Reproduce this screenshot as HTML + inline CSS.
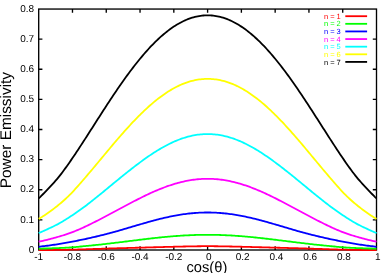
<!DOCTYPE html>
<html><head><meta charset="utf-8"><style>
html,body{margin:0;padding:0;background:#fff;}
body{width:389px;height:273px;overflow:hidden;}
svg{display:block;font-family:"Liberation Sans",sans-serif;text-rendering:geometricPrecision;will-change:transform;}
</style></head><body>
<svg width="389" height="273" viewBox="0 0 389 273">
<rect width="389" height="273" fill="#fff"/>
<g stroke="#000" stroke-width="1.35" fill="none">
<rect x="38.7" y="9.05" width="337.80" height="240.95"/>
<path d="M72.48,250.0 v-3.7 M72.48,9.05 v3.7"/>
<path d="M106.26,250.0 v-3.7 M106.26,9.05 v3.7"/>
<path d="M140.04,250.0 v-3.7 M140.04,9.05 v3.7"/>
<path d="M173.82,250.0 v-3.7 M173.82,9.05 v3.7"/>
<path d="M207.60,250.0 v-3.7 M207.60,9.05 v3.7"/>
<path d="M241.38,250.0 v-3.7 M241.38,9.05 v3.7"/>
<path d="M275.16,250.0 v-3.7 M275.16,9.05 v3.7"/>
<path d="M308.94,250.0 v-3.7 M308.94,9.05 v3.7"/>
<path d="M342.72,250.0 v-3.7 M342.72,9.05 v3.7"/>
<path d="M38.7,219.88 h3.7 M376.5,219.88 h-3.7"/>
<path d="M38.7,189.76 h3.7 M376.5,189.76 h-3.7"/>
<path d="M38.7,159.64 h3.7 M376.5,159.64 h-3.7"/>
<path d="M38.7,129.53 h3.7 M376.5,129.53 h-3.7"/>
<path d="M38.7,99.41 h3.7 M376.5,99.41 h-3.7"/>
<path d="M38.7,69.29 h3.7 M376.5,69.29 h-3.7"/>
<path d="M38.7,39.17 h3.7 M376.5,39.17 h-3.7"/>
</g>
<g>
<path d="M38.70,250.20 L40.11,250.18 L41.52,250.16 L42.92,250.15 L44.33,250.13 L45.74,250.11 L47.15,250.09 L48.55,250.07 L49.96,250.05 L51.37,250.03 L52.78,250.01 L54.18,249.99 L55.59,249.97 L57.00,249.95 L58.41,249.93 L59.81,249.91 L61.22,249.88 L62.63,249.86 L64.04,249.83 L65.44,249.80 L66.85,249.78 L68.26,249.75 L69.67,249.72 L71.07,249.68 L72.48,249.65 L73.89,249.61 L75.30,249.58 L76.70,249.54 L78.11,249.50 L79.52,249.46 L80.93,249.42 L82.33,249.38 L83.74,249.33 L85.15,249.29 L86.56,249.25 L87.96,249.20 L89.37,249.16 L90.78,249.11 L92.19,249.06 L93.59,249.02 L95.00,248.97 L96.41,248.92 L97.81,248.88 L99.22,248.83 L100.63,248.78 L102.04,248.74 L103.44,248.69 L104.85,248.64 L106.26,248.60 L107.67,248.56 L109.08,248.51 L110.48,248.47 L111.89,248.43 L113.30,248.39 L114.70,248.34 L116.11,248.30 L117.52,248.26 L118.93,248.22 L120.34,248.18 L121.74,248.14 L123.15,248.10 L124.56,248.07 L125.96,248.03 L127.37,247.99 L128.78,247.95 L130.19,247.91 L131.60,247.88 L133.00,247.84 L134.41,247.80 L135.82,247.76 L137.23,247.73 L138.63,247.69 L140.04,247.65 L141.45,247.61 L142.86,247.57 L144.26,247.54 L145.67,247.50 L147.08,247.46 L148.49,247.42 L149.89,247.38 L151.30,247.35 L152.71,247.31 L154.12,247.27 L155.52,247.23 L156.93,247.19 L158.34,247.16 L159.75,247.12 L161.15,247.08 L162.56,247.04 L163.97,247.01 L165.38,246.97 L166.78,246.93 L168.19,246.90 L169.60,246.86 L171.00,246.82 L172.41,246.79 L173.82,246.75 L175.23,246.71 L176.63,246.68 L178.04,246.64 L179.45,246.61 L180.86,246.58 L182.26,246.54 L183.67,246.51 L185.08,246.48 L186.49,246.45 L187.89,246.42 L189.30,246.39 L190.71,246.37 L192.12,246.34 L193.52,246.32 L194.93,246.30 L196.34,246.28 L197.75,246.26 L199.15,246.25 L200.56,246.23 L201.97,246.22 L203.38,246.21 L204.79,246.21 L206.19,246.20 L207.60,246.20 L209.01,246.20 L210.42,246.21 L211.82,246.21 L213.23,246.22 L214.64,246.23 L216.05,246.25 L217.45,246.26 L218.86,246.28 L220.27,246.30 L221.68,246.32 L223.08,246.34 L224.49,246.37 L225.90,246.39 L227.31,246.42 L228.71,246.45 L230.12,246.48 L231.53,246.51 L232.94,246.54 L234.34,246.58 L235.75,246.61 L237.16,246.64 L238.56,246.68 L239.97,246.71 L241.38,246.75 L242.79,246.79 L244.19,246.82 L245.60,246.86 L247.01,246.90 L248.42,246.93 L249.82,246.97 L251.23,247.01 L252.64,247.04 L254.05,247.08 L255.45,247.12 L256.86,247.16 L258.27,247.19 L259.68,247.23 L261.08,247.27 L262.49,247.31 L263.90,247.35 L265.31,247.38 L266.72,247.42 L268.12,247.46 L269.53,247.50 L270.94,247.54 L272.35,247.57 L273.75,247.61 L275.16,247.65 L276.57,247.69 L277.98,247.73 L279.38,247.76 L280.79,247.80 L282.20,247.84 L283.61,247.88 L285.01,247.91 L286.42,247.95 L287.83,247.99 L289.24,248.03 L290.64,248.07 L292.05,248.10 L293.46,248.14 L294.87,248.18 L296.27,248.22 L297.68,248.26 L299.09,248.30 L300.50,248.34 L301.90,248.39 L303.31,248.43 L304.72,248.47 L306.12,248.51 L307.53,248.56 L308.94,248.60 L310.35,248.64 L311.75,248.69 L313.16,248.74 L314.57,248.78 L315.98,248.83 L317.38,248.88 L318.79,248.92 L320.20,248.97 L321.61,249.02 L323.01,249.06 L324.42,249.11 L325.83,249.16 L327.24,249.20 L328.64,249.25 L330.05,249.29 L331.46,249.33 L332.87,249.38 L334.27,249.42 L335.68,249.46 L337.09,249.50 L338.50,249.54 L339.90,249.58 L341.31,249.61 L342.72,249.65 L344.13,249.68 L345.53,249.72 L346.94,249.75 L348.35,249.78 L349.76,249.80 L351.16,249.83 L352.57,249.86 L353.98,249.88 L355.39,249.91 L356.80,249.93 L358.20,249.95 L359.61,249.97 L361.02,249.99 L362.43,250.01 L363.83,250.03 L365.24,250.05 L366.65,250.07 L368.06,250.09 L369.46,250.11 L370.87,250.13 L372.28,250.15 L373.69,250.16 L375.09,250.18 L376.50,250.20" fill="none" stroke="#ff0000" stroke-width="1.8" stroke-linejoin="round"/>
<path d="M38.70,248.75 L40.11,248.68 L41.52,248.62 L42.92,248.57 L44.33,248.52 L45.74,248.48 L47.15,248.43 L48.55,248.39 L49.96,248.34 L51.37,248.30 L52.78,248.25 L54.18,248.20 L55.59,248.15 L57.00,248.10 L58.41,248.05 L59.81,248.00 L61.22,247.94 L62.63,247.88 L64.04,247.82 L65.44,247.75 L66.85,247.68 L68.26,247.60 L69.67,247.50 L71.07,247.40 L72.48,247.30 L73.89,247.18 L75.30,247.06 L76.70,246.93 L78.11,246.80 L79.52,246.66 L80.93,246.52 L82.33,246.38 L83.74,246.23 L85.15,246.09 L86.56,245.95 L87.96,245.81 L89.37,245.67 L90.78,245.53 L92.19,245.39 L93.59,245.25 L95.00,245.11 L96.41,244.96 L97.81,244.82 L99.22,244.67 L100.63,244.52 L102.04,244.37 L103.44,244.21 L104.85,244.05 L106.26,243.89 L107.67,243.73 L109.08,243.56 L110.48,243.40 L111.89,243.23 L113.30,243.06 L114.70,242.89 L116.11,242.71 L117.52,242.54 L118.93,242.37 L120.34,242.19 L121.74,242.02 L123.15,241.84 L124.56,241.67 L125.96,241.49 L127.37,241.32 L128.78,241.14 L130.19,240.97 L131.60,240.79 L133.00,240.62 L134.41,240.44 L135.82,240.27 L137.23,240.10 L138.63,239.92 L140.04,239.75 L141.45,239.58 L142.86,239.41 L144.26,239.24 L145.67,239.07 L147.08,238.91 L148.49,238.74 L149.89,238.58 L151.30,238.42 L152.71,238.26 L154.12,238.11 L155.52,237.95 L156.93,237.80 L158.34,237.65 L159.75,237.50 L161.15,237.36 L162.56,237.22 L163.97,237.08 L165.38,236.94 L166.78,236.81 L168.19,236.68 L169.60,236.56 L171.00,236.44 L172.41,236.32 L173.82,236.21 L175.23,236.10 L176.63,235.99 L178.04,235.89 L179.45,235.79 L180.86,235.70 L182.26,235.61 L183.67,235.52 L185.08,235.44 L186.49,235.37 L187.89,235.29 L189.30,235.23 L190.71,235.16 L192.12,235.11 L193.52,235.05 L194.93,235.01 L196.34,234.96 L197.75,234.93 L199.15,234.89 L200.56,234.87 L201.97,234.84 L203.38,234.82 L204.79,234.81 L206.19,234.80 L207.60,234.80 L209.01,234.80 L210.42,234.81 L211.82,234.82 L213.23,234.84 L214.64,234.87 L216.05,234.89 L217.45,234.93 L218.86,234.96 L220.27,235.01 L221.68,235.05 L223.08,235.11 L224.49,235.16 L225.90,235.23 L227.31,235.29 L228.71,235.37 L230.12,235.44 L231.53,235.52 L232.94,235.61 L234.34,235.70 L235.75,235.79 L237.16,235.89 L238.56,235.99 L239.97,236.10 L241.38,236.21 L242.79,236.32 L244.19,236.44 L245.60,236.56 L247.01,236.68 L248.42,236.81 L249.82,236.94 L251.23,237.08 L252.64,237.22 L254.05,237.36 L255.45,237.50 L256.86,237.65 L258.27,237.80 L259.68,237.95 L261.08,238.11 L262.49,238.26 L263.90,238.42 L265.31,238.58 L266.72,238.74 L268.12,238.91 L269.53,239.07 L270.94,239.24 L272.35,239.41 L273.75,239.58 L275.16,239.75 L276.57,239.92 L277.98,240.10 L279.38,240.27 L280.79,240.44 L282.20,240.62 L283.61,240.79 L285.01,240.97 L286.42,241.14 L287.83,241.32 L289.24,241.49 L290.64,241.67 L292.05,241.84 L293.46,242.02 L294.87,242.19 L296.27,242.37 L297.68,242.54 L299.09,242.71 L300.50,242.89 L301.90,243.06 L303.31,243.23 L304.72,243.40 L306.12,243.56 L307.53,243.73 L308.94,243.89 L310.35,244.05 L311.75,244.21 L313.16,244.37 L314.57,244.52 L315.98,244.67 L317.38,244.82 L318.79,244.96 L320.20,245.11 L321.61,245.25 L323.01,245.39 L324.42,245.53 L325.83,245.67 L327.24,245.81 L328.64,245.95 L330.05,246.09 L331.46,246.23 L332.87,246.38 L334.27,246.52 L335.68,246.66 L337.09,246.80 L338.50,246.93 L339.90,247.06 L341.31,247.18 L342.72,247.30 L344.13,247.40 L345.53,247.50 L346.94,247.60 L348.35,247.68 L349.76,247.75 L351.16,247.82 L352.57,247.88 L353.98,247.94 L355.39,248.00 L356.80,248.05 L358.20,248.10 L359.61,248.15 L361.02,248.20 L362.43,248.25 L363.83,248.30 L365.24,248.34 L366.65,248.39 L368.06,248.43 L369.46,248.48 L370.87,248.52 L372.28,248.57 L373.69,248.62 L375.09,248.68 L376.50,248.75" fill="none" stroke="#00ff00" stroke-width="1.8" stroke-linejoin="round"/>
<path d="M38.70,246.77 L40.11,246.58 L41.52,246.41 L42.92,246.25 L44.33,246.09 L45.74,245.93 L47.15,245.76 L48.55,245.58 L49.96,245.39 L51.37,245.18 L52.78,244.97 L54.18,244.75 L55.59,244.52 L57.00,244.29 L58.41,244.06 L59.81,243.82 L61.22,243.59 L62.63,243.35 L64.04,243.11 L65.44,242.86 L66.85,242.61 L68.26,242.36 L69.67,242.11 L71.07,241.85 L72.48,241.59 L73.89,241.32 L75.30,241.06 L76.70,240.78 L78.11,240.50 L79.52,240.22 L80.93,239.94 L82.33,239.65 L83.74,239.35 L85.15,239.05 L86.56,238.75 L87.96,238.44 L89.37,238.13 L90.78,237.81 L92.19,237.49 L93.59,237.16 L95.00,236.83 L96.41,236.50 L97.81,236.17 L99.22,235.83 L100.63,235.49 L102.04,235.14 L103.44,234.79 L104.85,234.44 L106.26,234.08 L107.67,233.71 L109.08,233.35 L110.48,232.97 L111.89,232.59 L113.30,232.21 L114.70,231.82 L116.11,231.43 L117.52,231.03 L118.93,230.63 L120.34,230.22 L121.74,229.81 L123.15,229.40 L124.56,228.98 L125.96,228.56 L127.37,228.14 L128.78,227.73 L130.19,227.31 L131.60,226.89 L133.00,226.47 L134.41,226.05 L135.82,225.64 L137.23,225.22 L138.63,224.81 L140.04,224.40 L141.45,223.99 L142.86,223.58 L144.26,223.17 L145.67,222.77 L147.08,222.37 L148.49,221.98 L149.89,221.59 L151.30,221.20 L152.71,220.82 L154.12,220.44 L155.52,220.07 L156.93,219.71 L158.34,219.35 L159.75,218.99 L161.15,218.65 L162.56,218.31 L163.97,217.98 L165.38,217.65 L166.78,217.33 L168.19,217.02 L169.60,216.72 L171.00,216.43 L172.41,216.15 L173.82,215.87 L175.23,215.61 L176.63,215.35 L178.04,215.11 L179.45,214.87 L180.86,214.65 L182.26,214.43 L183.67,214.23 L185.08,214.03 L186.49,213.85 L187.89,213.68 L189.30,213.51 L190.71,213.37 L192.12,213.23 L193.52,213.10 L194.93,212.99 L196.34,212.88 L197.75,212.79 L199.15,212.71 L200.56,212.65 L201.97,212.59 L203.38,212.55 L204.79,212.52 L206.19,212.50 L207.60,212.49 L209.01,212.50 L210.42,212.52 L211.82,212.55 L213.23,212.59 L214.64,212.65 L216.05,212.71 L217.45,212.79 L218.86,212.88 L220.27,212.99 L221.68,213.10 L223.08,213.23 L224.49,213.37 L225.90,213.51 L227.31,213.68 L228.71,213.85 L230.12,214.03 L231.53,214.23 L232.94,214.43 L234.34,214.65 L235.75,214.87 L237.16,215.11 L238.56,215.35 L239.97,215.61 L241.38,215.87 L242.79,216.15 L244.19,216.43 L245.60,216.72 L247.01,217.02 L248.42,217.33 L249.82,217.65 L251.23,217.98 L252.64,218.31 L254.05,218.65 L255.45,218.99 L256.86,219.35 L258.27,219.71 L259.68,220.07 L261.08,220.44 L262.49,220.82 L263.90,221.20 L265.31,221.59 L266.72,221.98 L268.12,222.37 L269.53,222.77 L270.94,223.17 L272.35,223.58 L273.75,223.99 L275.16,224.40 L276.57,224.81 L277.98,225.22 L279.38,225.64 L280.79,226.05 L282.20,226.47 L283.61,226.89 L285.01,227.31 L286.42,227.73 L287.83,228.14 L289.24,228.56 L290.64,228.98 L292.05,229.40 L293.46,229.81 L294.87,230.22 L296.27,230.63 L297.68,231.03 L299.09,231.43 L300.50,231.82 L301.90,232.21 L303.31,232.59 L304.72,232.97 L306.12,233.35 L307.53,233.71 L308.94,234.08 L310.35,234.44 L311.75,234.79 L313.16,235.14 L314.57,235.49 L315.98,235.83 L317.38,236.17 L318.79,236.50 L320.20,236.83 L321.61,237.16 L323.01,237.49 L324.42,237.81 L325.83,238.13 L327.24,238.44 L328.64,238.75 L330.05,239.05 L331.46,239.35 L332.87,239.65 L334.27,239.94 L335.68,240.22 L337.09,240.50 L338.50,240.78 L339.90,241.06 L341.31,241.32 L342.72,241.59 L344.13,241.85 L345.53,242.11 L346.94,242.36 L348.35,242.61 L349.76,242.86 L351.16,243.11 L352.57,243.35 L353.98,243.59 L355.39,243.82 L356.80,244.06 L358.20,244.29 L359.61,244.52 L361.02,244.75 L362.43,244.97 L363.83,245.18 L365.24,245.39 L366.65,245.58 L368.06,245.76 L369.46,245.93 L370.87,246.09 L372.28,246.25 L373.69,246.41 L375.09,246.58 L376.50,246.77" fill="none" stroke="#0000ff" stroke-width="1.8" stroke-linejoin="round"/>
<path d="M38.70,241.70 L40.11,241.39 L41.52,241.08 L42.92,240.76 L44.33,240.44 L45.74,240.11 L47.15,239.77 L48.55,239.43 L49.96,239.07 L51.37,238.71 L52.78,238.33 L54.18,237.95 L55.59,237.56 L57.00,237.17 L58.41,236.76 L59.81,236.35 L61.22,235.93 L62.63,235.50 L64.04,235.06 L65.44,234.61 L66.85,234.14 L68.26,233.65 L69.67,233.15 L71.07,232.63 L72.48,232.10 L73.89,231.55 L75.30,230.99 L76.70,230.41 L78.11,229.83 L79.52,229.23 L80.93,228.61 L82.33,227.99 L83.74,227.35 L85.15,226.69 L86.56,226.03 L87.96,225.36 L89.37,224.67 L90.78,223.98 L92.19,223.28 L93.59,222.57 L95.00,221.86 L96.41,221.15 L97.81,220.43 L99.22,219.71 L100.63,218.98 L102.04,218.25 L103.44,217.52 L104.85,216.78 L106.26,216.04 L107.67,215.30 L109.08,214.55 L110.48,213.80 L111.89,213.05 L113.30,212.30 L114.70,211.54 L116.11,210.79 L117.52,210.03 L118.93,209.27 L120.34,208.52 L121.74,207.76 L123.15,207.01 L124.56,206.25 L125.96,205.50 L127.37,204.75 L128.78,204.01 L130.19,203.26 L131.60,202.52 L133.00,201.79 L134.41,201.05 L135.82,200.33 L137.23,199.61 L138.63,198.89 L140.04,198.18 L141.45,197.48 L142.86,196.78 L144.26,196.10 L145.67,195.42 L147.08,194.74 L148.49,194.08 L149.89,193.43 L151.30,192.79 L152.71,192.15 L154.12,191.53 L155.52,190.92 L156.93,190.32 L158.34,189.73 L159.75,189.15 L161.15,188.59 L162.56,188.04 L163.97,187.50 L165.38,186.97 L166.78,186.46 L168.19,185.97 L169.60,185.48 L171.00,185.02 L172.41,184.56 L173.82,184.13 L175.23,183.70 L176.63,183.30 L178.04,182.91 L179.45,182.54 L180.86,182.18 L182.26,181.84 L183.67,181.52 L185.08,181.21 L186.49,180.92 L187.89,180.65 L189.30,180.40 L190.71,180.17 L192.12,179.95 L193.52,179.75 L194.93,179.57 L196.34,179.41 L197.75,179.27 L199.15,179.15 L200.56,179.04 L201.97,178.96 L203.38,178.89 L204.79,178.84 L206.19,178.81 L207.60,178.80 L209.01,178.81 L210.42,178.84 L211.82,178.89 L213.23,178.96 L214.64,179.04 L216.05,179.15 L217.45,179.27 L218.86,179.41 L220.27,179.57 L221.68,179.75 L223.08,179.95 L224.49,180.17 L225.90,180.40 L227.31,180.65 L228.71,180.92 L230.12,181.21 L231.53,181.52 L232.94,181.84 L234.34,182.18 L235.75,182.54 L237.16,182.91 L238.56,183.30 L239.97,183.70 L241.38,184.13 L242.79,184.56 L244.19,185.02 L245.60,185.48 L247.01,185.97 L248.42,186.46 L249.82,186.97 L251.23,187.50 L252.64,188.04 L254.05,188.59 L255.45,189.15 L256.86,189.73 L258.27,190.32 L259.68,190.92 L261.08,191.53 L262.49,192.15 L263.90,192.79 L265.31,193.43 L266.72,194.08 L268.12,194.74 L269.53,195.42 L270.94,196.10 L272.35,196.78 L273.75,197.48 L275.16,198.18 L276.57,198.89 L277.98,199.61 L279.38,200.33 L280.79,201.05 L282.20,201.79 L283.61,202.52 L285.01,203.26 L286.42,204.01 L287.83,204.75 L289.24,205.50 L290.64,206.25 L292.05,207.01 L293.46,207.76 L294.87,208.52 L296.27,209.27 L297.68,210.03 L299.09,210.79 L300.50,211.54 L301.90,212.30 L303.31,213.05 L304.72,213.80 L306.12,214.55 L307.53,215.30 L308.94,216.04 L310.35,216.78 L311.75,217.52 L313.16,218.25 L314.57,218.98 L315.98,219.71 L317.38,220.43 L318.79,221.15 L320.20,221.86 L321.61,222.57 L323.01,223.28 L324.42,223.98 L325.83,224.67 L327.24,225.36 L328.64,226.03 L330.05,226.69 L331.46,227.35 L332.87,227.99 L334.27,228.61 L335.68,229.23 L337.09,229.83 L338.50,230.41 L339.90,230.99 L341.31,231.55 L342.72,232.10 L344.13,232.63 L345.53,233.15 L346.94,233.65 L348.35,234.14 L349.76,234.61 L351.16,235.06 L352.57,235.50 L353.98,235.93 L355.39,236.35 L356.80,236.76 L358.20,237.17 L359.61,237.56 L361.02,237.95 L362.43,238.33 L363.83,238.71 L365.24,239.07 L366.65,239.43 L368.06,239.77 L369.46,240.11 L370.87,240.44 L372.28,240.76 L373.69,241.08 L375.09,241.39 L376.50,241.70" fill="none" stroke="#ff00ff" stroke-width="1.8" stroke-linejoin="round"/>
<path d="M38.70,233.18 L40.11,232.52 L41.52,231.87 L42.92,231.23 L44.33,230.60 L45.74,229.96 L47.15,229.32 L48.55,228.68 L49.96,228.03 L51.37,227.37 L52.78,226.69 L54.18,226.01 L55.59,225.31 L57.00,224.58 L58.41,223.84 L59.81,223.06 L61.22,222.26 L62.63,221.43 L64.04,220.57 L65.44,219.70 L66.85,218.81 L68.26,217.90 L69.67,216.99 L71.07,216.06 L72.48,215.13 L73.89,214.19 L75.30,213.24 L76.70,212.28 L78.11,211.31 L79.52,210.33 L80.93,209.33 L82.33,208.31 L83.74,207.28 L85.15,206.23 L86.56,205.16 L87.96,204.08 L89.37,202.99 L90.78,201.88 L92.19,200.77 L93.59,199.65 L95.00,198.52 L96.41,197.39 L97.81,196.26 L99.22,195.12 L100.63,193.98 L102.04,192.83 L103.44,191.68 L104.85,190.53 L106.26,189.37 L107.67,188.21 L109.08,187.05 L110.48,185.89 L111.89,184.73 L113.30,183.57 L114.70,182.41 L116.11,181.26 L117.52,180.10 L118.93,178.95 L120.34,177.81 L121.74,176.66 L123.15,175.53 L124.56,174.40 L125.96,173.27 L127.37,172.15 L128.78,171.03 L130.19,169.92 L131.60,168.82 L133.00,167.73 L134.41,166.64 L135.82,165.56 L137.23,164.49 L138.63,163.43 L140.04,162.39 L141.45,161.35 L142.86,160.32 L144.26,159.31 L145.67,158.31 L147.08,157.32 L148.49,156.34 L149.89,155.38 L151.30,154.44 L152.71,153.51 L154.12,152.59 L155.52,151.70 L156.93,150.82 L158.34,149.96 L159.75,149.11 L161.15,148.29 L162.56,147.48 L163.97,146.70 L165.38,145.93 L166.78,145.18 L168.19,144.46 L169.60,143.76 L171.00,143.07 L172.41,142.41 L173.82,141.78 L175.23,141.16 L176.63,140.57 L178.04,140.01 L179.45,139.47 L180.86,138.95 L182.26,138.45 L183.67,137.99 L185.08,137.54 L186.49,137.13 L187.89,136.73 L189.30,136.37 L190.71,136.03 L192.12,135.71 L193.52,135.43 L194.93,135.17 L196.34,134.94 L197.75,134.73 L199.15,134.55 L200.56,134.40 L201.97,134.28 L203.38,134.18 L204.79,134.11 L206.19,134.07 L207.60,134.06 L209.01,134.07 L210.42,134.11 L211.82,134.18 L213.23,134.28 L214.64,134.40 L216.05,134.55 L217.45,134.73 L218.86,134.94 L220.27,135.17 L221.68,135.43 L223.08,135.71 L224.49,136.03 L225.90,136.37 L227.31,136.73 L228.71,137.13 L230.12,137.54 L231.53,137.99 L232.94,138.45 L234.34,138.95 L235.75,139.47 L237.16,140.01 L238.56,140.57 L239.97,141.16 L241.38,141.78 L242.79,142.41 L244.19,143.07 L245.60,143.76 L247.01,144.46 L248.42,145.18 L249.82,145.93 L251.23,146.70 L252.64,147.48 L254.05,148.29 L255.45,149.11 L256.86,149.96 L258.27,150.82 L259.68,151.70 L261.08,152.59 L262.49,153.51 L263.90,154.44 L265.31,155.38 L266.72,156.34 L268.12,157.32 L269.53,158.31 L270.94,159.31 L272.35,160.32 L273.75,161.35 L275.16,162.39 L276.57,163.43 L277.98,164.49 L279.38,165.56 L280.79,166.64 L282.20,167.73 L283.61,168.82 L285.01,169.92 L286.42,171.03 L287.83,172.15 L289.24,173.27 L290.64,174.40 L292.05,175.53 L293.46,176.66 L294.87,177.81 L296.27,178.95 L297.68,180.10 L299.09,181.26 L300.50,182.41 L301.90,183.57 L303.31,184.73 L304.72,185.89 L306.12,187.05 L307.53,188.21 L308.94,189.37 L310.35,190.53 L311.75,191.68 L313.16,192.83 L314.57,193.98 L315.98,195.12 L317.38,196.26 L318.79,197.39 L320.20,198.52 L321.61,199.65 L323.01,200.77 L324.42,201.88 L325.83,202.99 L327.24,204.08 L328.64,205.16 L330.05,206.23 L331.46,207.28 L332.87,208.31 L334.27,209.33 L335.68,210.33 L337.09,211.31 L338.50,212.28 L339.90,213.24 L341.31,214.19 L342.72,215.13 L344.13,216.06 L345.53,216.99 L346.94,217.90 L348.35,218.81 L349.76,219.70 L351.16,220.57 L352.57,221.43 L353.98,222.26 L355.39,223.06 L356.80,223.84 L358.20,224.58 L359.61,225.31 L361.02,226.01 L362.43,226.69 L363.83,227.37 L365.24,228.03 L366.65,228.68 L368.06,229.32 L369.46,229.96 L370.87,230.60 L372.28,231.23 L373.69,231.87 L375.09,232.52 L376.50,233.18" fill="none" stroke="#00ffff" stroke-width="1.8" stroke-linejoin="round"/>
<path d="M38.70,218.88 L40.11,218.10 L41.52,217.25 L42.92,216.36 L44.33,215.43 L45.74,214.47 L47.15,213.49 L48.55,212.50 L49.96,211.49 L51.37,210.46 L52.78,209.42 L54.18,208.36 L55.59,207.28 L57.00,206.18 L58.41,205.06 L59.81,203.91 L61.22,202.74 L62.63,201.53 L64.04,200.29 L65.44,199.02 L66.85,197.70 L68.26,196.35 L69.67,194.95 L71.07,193.51 L72.48,192.04 L73.89,190.52 L75.30,188.98 L76.70,187.41 L78.11,185.82 L79.52,184.23 L80.93,182.62 L82.33,181.00 L83.74,179.37 L85.15,177.74 L86.56,176.10 L87.96,174.45 L89.37,172.79 L90.78,171.13 L92.19,169.46 L93.59,167.78 L95.00,166.10 L96.41,164.42 L97.81,162.73 L99.22,161.04 L100.63,159.34 L102.04,157.65 L103.44,155.96 L104.85,154.27 L106.26,152.58 L107.67,150.90 L109.08,149.21 L110.48,147.54 L111.89,145.87 L113.30,144.20 L114.70,142.54 L116.11,140.89 L117.52,139.25 L118.93,137.62 L120.34,136.00 L121.74,134.39 L123.15,132.79 L124.56,131.20 L125.96,129.63 L127.37,128.07 L128.78,126.53 L130.19,125.00 L131.60,123.48 L133.00,121.99 L134.41,120.51 L135.82,119.05 L137.23,117.60 L138.63,116.18 L140.04,114.77 L141.45,113.39 L142.86,112.03 L144.26,110.68 L145.67,109.36 L147.08,108.06 L148.49,106.79 L149.89,105.54 L151.30,104.31 L152.71,103.11 L154.12,101.93 L155.52,100.77 L156.93,99.65 L158.34,98.54 L159.75,97.47 L161.15,96.42 L162.56,95.40 L163.97,94.41 L165.38,93.44 L166.78,92.50 L168.19,91.60 L169.60,90.72 L171.00,89.87 L172.41,89.05 L173.82,88.26 L175.23,87.50 L176.63,86.77 L178.04,86.07 L179.45,85.41 L180.86,84.77 L182.26,84.17 L183.67,83.60 L185.08,83.06 L186.49,82.55 L187.89,82.08 L189.30,81.63 L190.71,81.23 L192.12,80.85 L193.52,80.51 L194.93,80.20 L196.34,79.92 L197.75,79.67 L199.15,79.46 L200.56,79.29 L201.97,79.14 L203.38,79.03 L204.79,78.95 L206.19,78.91 L207.60,78.90 L209.01,78.91 L210.42,78.95 L211.82,79.03 L213.23,79.14 L214.64,79.29 L216.05,79.46 L217.45,79.67 L218.86,79.92 L220.27,80.20 L221.68,80.51 L223.08,80.85 L224.49,81.23 L225.90,81.63 L227.31,82.08 L228.71,82.55 L230.12,83.06 L231.53,83.60 L232.94,84.17 L234.34,84.77 L235.75,85.41 L237.16,86.07 L238.56,86.77 L239.97,87.50 L241.38,88.26 L242.79,89.05 L244.19,89.87 L245.60,90.72 L247.01,91.60 L248.42,92.50 L249.82,93.44 L251.23,94.41 L252.64,95.40 L254.05,96.42 L255.45,97.47 L256.86,98.54 L258.27,99.65 L259.68,100.77 L261.08,101.93 L262.49,103.11 L263.90,104.31 L265.31,105.54 L266.72,106.79 L268.12,108.06 L269.53,109.36 L270.94,110.68 L272.35,112.03 L273.75,113.39 L275.16,114.77 L276.57,116.18 L277.98,117.60 L279.38,119.05 L280.79,120.51 L282.20,121.99 L283.61,123.48 L285.01,125.00 L286.42,126.53 L287.83,128.07 L289.24,129.63 L290.64,131.20 L292.05,132.79 L293.46,134.39 L294.87,136.00 L296.27,137.62 L297.68,139.25 L299.09,140.89 L300.50,142.54 L301.90,144.20 L303.31,145.87 L304.72,147.54 L306.12,149.21 L307.53,150.90 L308.94,152.58 L310.35,154.27 L311.75,155.96 L313.16,157.65 L314.57,159.34 L315.98,161.04 L317.38,162.73 L318.79,164.42 L320.20,166.10 L321.61,167.78 L323.01,169.46 L324.42,171.13 L325.83,172.79 L327.24,174.45 L328.64,176.10 L330.05,177.74 L331.46,179.37 L332.87,181.00 L334.27,182.62 L335.68,184.23 L337.09,185.82 L338.50,187.41 L339.90,188.98 L341.31,190.52 L342.72,192.04 L344.13,193.51 L345.53,194.95 L346.94,196.35 L348.35,197.70 L349.76,199.02 L351.16,200.29 L352.57,201.53 L353.98,202.74 L355.39,203.91 L356.80,205.06 L358.20,206.18 L359.61,207.28 L361.02,208.36 L362.43,209.42 L363.83,210.46 L365.24,211.49 L366.65,212.50 L368.06,213.49 L369.46,214.47 L370.87,215.43 L372.28,216.36 L373.69,217.25 L375.09,218.10 L376.50,218.88" fill="none" stroke="#ffff00" stroke-width="1.8" stroke-linejoin="round"/>
<path d="M38.70,198.34 L40.11,197.04 L41.52,195.67 L42.92,194.25 L44.33,192.79 L45.74,191.30 L47.15,189.81 L48.55,188.32 L49.96,186.82 L51.37,185.33 L52.78,183.81 L54.18,182.27 L55.59,180.69 L57.00,179.06 L58.41,177.37 L59.81,175.62 L61.22,173.82 L62.63,171.96 L64.04,170.07 L65.44,168.13 L66.85,166.17 L68.26,164.18 L69.67,162.17 L71.07,160.13 L72.48,158.07 L73.89,156.00 L75.30,153.90 L76.70,151.79 L78.11,149.67 L79.52,147.53 L80.93,145.38 L82.33,143.22 L83.74,141.05 L85.15,138.87 L86.56,136.69 L87.96,134.50 L89.37,132.30 L90.78,130.10 L92.19,127.90 L93.59,125.70 L95.00,123.50 L96.41,121.30 L97.81,119.10 L99.22,116.90 L100.63,114.71 L102.04,112.53 L103.44,110.35 L104.85,108.17 L106.26,106.01 L107.67,103.85 L109.08,101.71 L110.48,99.57 L111.89,97.45 L113.30,95.34 L114.70,93.25 L116.11,91.17 L117.52,89.10 L118.93,87.05 L120.34,85.02 L121.74,83.00 L123.15,81.01 L124.56,79.03 L125.96,77.07 L127.37,75.14 L128.78,73.22 L130.19,71.33 L131.60,69.46 L133.00,67.61 L134.41,65.79 L135.82,63.99 L137.23,62.21 L138.63,60.46 L140.04,58.74 L141.45,57.05 L142.86,55.38 L144.26,53.74 L145.67,52.13 L147.08,50.55 L148.49,49.00 L149.89,47.48 L151.30,45.99 L152.71,44.53 L154.12,43.10 L155.52,41.70 L156.93,40.34 L158.34,39.00 L159.75,37.71 L161.15,36.44 L162.56,35.21 L163.97,34.01 L165.38,32.85 L166.78,31.72 L168.19,30.63 L169.60,29.57 L171.00,28.55 L172.41,27.57 L173.82,26.62 L175.23,25.71 L176.63,24.83 L178.04,23.99 L179.45,23.19 L180.86,22.43 L182.26,21.71 L183.67,21.02 L185.08,20.37 L186.49,19.76 L187.89,19.19 L189.30,18.66 L190.71,18.16 L192.12,17.71 L193.52,17.29 L194.93,16.92 L196.34,16.58 L197.75,16.28 L199.15,16.03 L200.56,15.81 L201.97,15.63 L203.38,15.49 L204.79,15.39 L206.19,15.33 L207.60,15.31 L209.01,15.33 L210.42,15.39 L211.82,15.49 L213.23,15.63 L214.64,15.81 L216.05,16.03 L217.45,16.28 L218.86,16.58 L220.27,16.92 L221.68,17.29 L223.08,17.71 L224.49,18.16 L225.90,18.66 L227.31,19.19 L228.71,19.76 L230.12,20.37 L231.53,21.02 L232.94,21.71 L234.34,22.43 L235.75,23.19 L237.16,23.99 L238.56,24.83 L239.97,25.71 L241.38,26.62 L242.79,27.57 L244.19,28.55 L245.60,29.57 L247.01,30.63 L248.42,31.72 L249.82,32.85 L251.23,34.01 L252.64,35.21 L254.05,36.44 L255.45,37.71 L256.86,39.00 L258.27,40.34 L259.68,41.70 L261.08,43.10 L262.49,44.53 L263.90,45.99 L265.31,47.48 L266.72,49.00 L268.12,50.55 L269.53,52.13 L270.94,53.74 L272.35,55.38 L273.75,57.05 L275.16,58.74 L276.57,60.46 L277.98,62.21 L279.38,63.99 L280.79,65.79 L282.20,67.61 L283.61,69.46 L285.01,71.33 L286.42,73.22 L287.83,75.14 L289.24,77.07 L290.64,79.03 L292.05,81.01 L293.46,83.00 L294.87,85.02 L296.27,87.05 L297.68,89.10 L299.09,91.17 L300.50,93.25 L301.90,95.34 L303.31,97.45 L304.72,99.57 L306.12,101.71 L307.53,103.85 L308.94,106.01 L310.35,108.17 L311.75,110.35 L313.16,112.53 L314.57,114.71 L315.98,116.90 L317.38,119.10 L318.79,121.30 L320.20,123.50 L321.61,125.70 L323.01,127.90 L324.42,130.10 L325.83,132.30 L327.24,134.50 L328.64,136.69 L330.05,138.87 L331.46,141.05 L332.87,143.22 L334.27,145.38 L335.68,147.53 L337.09,149.67 L338.50,151.79 L339.90,153.90 L341.31,156.00 L342.72,158.07 L344.13,160.13 L345.53,162.17 L346.94,164.18 L348.35,166.17 L349.76,168.13 L351.16,170.07 L352.57,171.96 L353.98,173.82 L355.39,175.62 L356.80,177.37 L358.20,179.06 L359.61,180.69 L361.02,182.27 L362.43,183.81 L363.83,185.33 L365.24,186.82 L366.65,188.32 L368.06,189.81 L369.46,191.30 L370.87,192.79 L372.28,194.25 L373.69,195.67 L375.09,197.04 L376.50,198.34" fill="none" stroke="#000000" stroke-width="1.8" stroke-linejoin="round"/>
</g>
<g font-size="10.0" fill="#000">
<text x="38.70" y="260.25" text-anchor="middle">-1</text>
<text x="72.48" y="260.25" text-anchor="middle">-0.8</text>
<text x="106.26" y="260.25" text-anchor="middle">-0.6</text>
<text x="140.04" y="260.25" text-anchor="middle">-0.4</text>
<text x="173.82" y="260.25" text-anchor="middle">-0.2</text>
<text x="208.70" y="260.25" text-anchor="middle">0</text>
<text x="242.58" y="260.25" text-anchor="middle">0.2</text>
<text x="276.36" y="260.25" text-anchor="middle">0.4</text>
<text x="310.14" y="260.25" text-anchor="middle">0.6</text>
<text x="343.92" y="260.25" text-anchor="middle">0.8</text>
<text x="377.70" y="260.25" text-anchor="middle">1</text>
<text x="34.2" y="252.70" text-anchor="end">0</text>
<text x="34.2" y="222.58" text-anchor="end">0.1</text>
<text x="34.2" y="192.46" text-anchor="end">0.2</text>
<text x="34.2" y="162.34" text-anchor="end">0.3</text>
<text x="34.2" y="132.22" text-anchor="end">0.4</text>
<text x="34.2" y="102.11" text-anchor="end">0.5</text>
<text x="34.2" y="71.99" text-anchor="end">0.6</text>
<text x="34.2" y="41.87" text-anchor="end">0.7</text>
<text x="34.2" y="11.75" text-anchor="end">0.8</text>
</g>
<g>
<text x="340.8" y="18.85" text-anchor="end" fill="#ff0000" font-size="7.5">n = 1</text>
<path d="M345.3,16.20 H367.1" stroke="#ff0000" stroke-width="1.8" fill="none"/>
<text x="340.8" y="26.47" text-anchor="end" fill="#00ff00" font-size="7.5">n = 2</text>
<path d="M345.3,23.82 H367.1" stroke="#00ff00" stroke-width="1.8" fill="none"/>
<text x="340.8" y="34.09" text-anchor="end" fill="#0000ff" font-size="7.5">n = 3</text>
<path d="M345.3,31.44 H367.1" stroke="#0000ff" stroke-width="1.8" fill="none"/>
<text x="340.8" y="41.71" text-anchor="end" fill="#ff00ff" font-size="7.5">n = 4</text>
<path d="M345.3,39.06 H367.1" stroke="#ff00ff" stroke-width="1.8" fill="none"/>
<text x="340.8" y="49.33" text-anchor="end" fill="#00ffff" font-size="7.5">n = 5</text>
<path d="M345.3,46.68 H367.1" stroke="#00ffff" stroke-width="1.8" fill="none"/>
<text x="340.8" y="56.95" text-anchor="end" fill="#ffff00" font-size="7.5">n = 6</text>
<path d="M345.3,54.30 H367.1" stroke="#ffff00" stroke-width="1.8" fill="none"/>
<text x="340.8" y="64.57" text-anchor="end" fill="#000000" font-size="7.5">n = 7</text>
<path d="M345.3,61.92 H367.1" stroke="#000000" stroke-width="1.8" fill="none"/>
</g>
<text x="206.9" y="271.9" font-size="14.7" text-anchor="middle" fill="#000">cos(θ)</text>
<text transform="translate(10.5,130.1) rotate(-90)" font-size="15.4" text-anchor="middle" fill="#000">Power Emissivity</text>
</svg>
</body></html>
